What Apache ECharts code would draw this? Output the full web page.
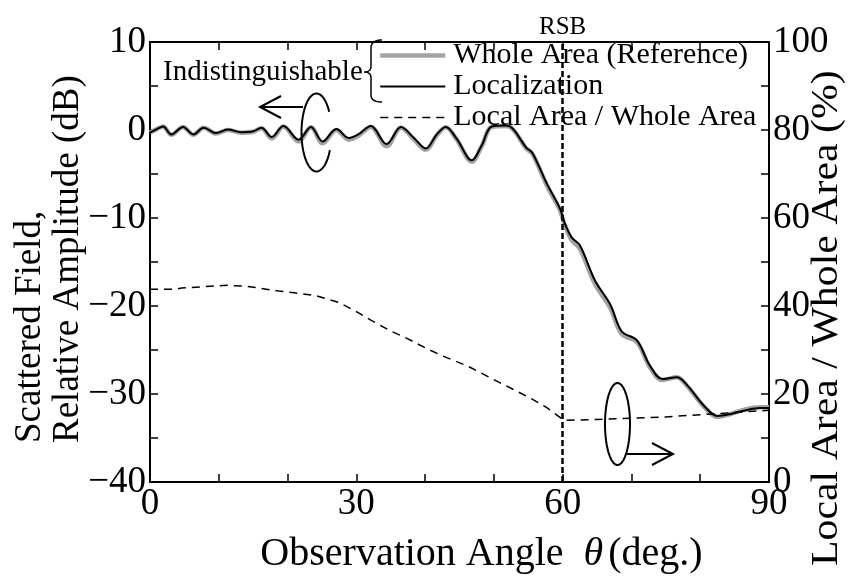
<!DOCTYPE html>
<html>
<head>
<meta charset="utf-8">
<script src="https://cdn.jsdelivr.net/npm/echarts@6/dist/echarts.min.js"></script>
<style>
  html, body { margin: 0; padding: 0; background: #fff; }
  #chart { width: 857px; height: 579px; }
</style>
</head>
<body>
<div id="chart"></div>
<script>
// Observation angle (deg.) for the scattered-field curves
const thetaField = [0, 1.0, 1.9, 3.1, 4.8, 6.3, 7.8, 9.6, 11.3, 13.3, 15.0, 16.2, 17.7, 19.4, 21.6, 23.4, 25.1, 27.1, 28.9, 30.3,
  32.1, 34.4, 36.5, 38.3, 40.1, 41.7, 43.0, 44.6, 46.8, 48.2, 49.7, 51.8, 52.8, 54.7, 55.6, 57.7, 59.6, 60.3, 61.3, 62.5,
  64.7, 66.9, 68.6, 70.8, 72.7, 74.5, 76.6, 78.0, 80.5, 82.5, 84.3, 86.3, 88.7, 90];

// Relative amplitude (dB), whole area (reference)
const wholeAreaDb = [-0.3, 0.1, 0.4, -0.55, 0.35, -0.55, 0.25, -0.4, 0.0, -0.3, -0.2, 0.2, -0.95, 0.4, -1.3, 0.3, -1.5, 0.0, -1.1, -0.65,
  0.35, -1.85, 0.25, -1.0, -2.25, -0.6, 0.3, -1.1, -3.6, -1.9, 0.35, 0.45, 0.05, -2.1, -2.7, -6.3, -9.1, -10.8, -12.5, -13.5,
  -17.5, -20.2, -23.2, -24.1, -27.0, -28.4, -28.1, -29.0, -31.4, -32.6, -32.3, -31.8, -31.5, -31.5];

// Relative amplitude (dB), localization
const localizationDb = [-0.3, 0.1, 0.4, -0.5, 0.35, -0.5, 0.25, -0.35, 0.05, -0.25, -0.15, 0.25, -0.8, 0.45, -1.1, 0.35, -1.3, 0.1, -0.9, -0.5,
  0.45, -1.6, 0.35, -0.85, -2.1, -0.5, 0.35, -1.0, -3.45, -1.8, 0.4, 0.5, 0.1, -2.0, -2.6, -6.1, -8.9, -10.6, -12.2, -13.1,
  -17.1, -19.8, -22.9, -23.9, -26.8, -28.3, -28.1, -28.9, -31.3, -32.5, -32.3, -31.9, -31.6, -31.6];

// Local area / whole area (%)
const thetaRatio = [0, 3.6, 4.6, 8, 11.2, 14, 15.8, 18.7, 21, 24, 27.5, 30, 32.1, 35, 37.3, 40, 42.6, 46.1, 50.7, 55.4,
  57.7, 60.2, 65, 70, 75, 81, 85, 90];
const areaRatio = [43.8, 43.8, 44.1, 44.4, 44.7, 44.5, 44.1, 43.4, 43.0, 42.4, 40.8, 38.7, 36.8, 34.3, 32.7, 30.5, 28.6, 26.4, 22.7, 19.0,
  16.9, 14.0, 14.2, 14.5, 14.8, 15.4, 15.8, 16.3];

const seriesNames = ['Whole Area (Reference)', 'Localization', 'Local Area / Whole Area'];
const rsbAngle = 60;

const FONT = '"Liberation Serif", "Times New Roman", serif';
const pairs = (xs, ys) => xs.map((x, i) => [x, ys[i]]);
const minus = v => (v < 0 ? '\u2212' + Math.abs(v) : String(v));

// ellipse outline as a polyline over a parameter range
function ellipsePts(cx, cy, rx, ry, t0, t1) {
  const pts = [];
  const n = 60;
  for (let i = 0; i <= n; i++) {
    const t = t0 + (t1 - t0) * i / n;
    pts.push([cx + rx * Math.cos(t), cy + ry * Math.sin(t)]);
  }
  return pts;
}

// quadratic curve sampled into points
function quadPts(p0, c, p1) {
  const pts = [];
  const n = 12;
  for (let i = 0; i <= n; i++) {
    const t = i / n, u = 1 - t;
    pts.push([u * u * p0[0] + 2 * u * t * c[0] + t * t * p1[0], u * u * p0[1] + 2 * u * t * c[1] + t * t * p1[1]]);
  }
  return pts;
}

// left curly brace: top hook, middle point, bottom hook
const bracePts = [].concat(
  quadPts([382, 40], [371, 40], [371, 48]),
  [[371, 66]],
  quadPts([371, 66], [371, 72], [364, 72]),
  quadPts([364, 72], [371, 72], [371, 78]),
  [[371, 95]],
  quadPts([371, 95], [371, 102], [382, 102])
);

const chart = echarts.init(document.getElementById('chart'), null, { renderer: 'canvas' });

const axisLineStyle = { color: '#000', width: 2 };
const tickStyle = { color: '#000', width: 1.5 };

const option = {
  backgroundColor: '#fff',
  animation: false,
  grid: { left: 150, right: 88, top: 42, bottom: 93, containLabel: false },
  legend: {
    data: [
      { name: seriesNames[0], lineStyle: { width: 4.5 } },
      { name: seriesNames[1], lineStyle: { width: 2 } },
      { name: seriesNames[2], lineStyle: { width: 1.5 } }
    ],
    orient: 'vertical',
    left: 373,
    top: 35,
    itemWidth: 65,
    itemHeight: 14,
    itemGap: 0,
    selectedMode: false,
    itemStyle: { opacity: 0 },
    textStyle: { fontFamily: FONT, fontSize: 30, color: '#000', lineHeight: 31, padding: [0, 0, 0, 3] }
  },
  xAxis: [
    {
      type: 'value', position: 'bottom', min: 0, max: 90, interval: 10,
      axisLine: { onZero: false, lineStyle: axisLineStyle },
      axisTick: { inside: true, length: 8, lineStyle: tickStyle },
      splitLine: { show: false },
      axisLabel: {
        fontFamily: FONT, fontSize: 37, color: '#000', margin: 4,
        formatter: v => (v % 30 === 0 ? String(v) : '')
      },
      name: 'Observation Angle {i|θ}(deg.)',
      nameLocation: 'middle',
      nameGap: 52,
      nameTextStyle: {
        fontFamily: FONT, fontSize: 40, color: '#000', padding: [0, 0, 0, 44],
        rich: { i: { fontFamily: FONT, fontSize: 40, fontStyle: 'italic', color: '#000', padding: [0, 5, 0, 10] } }
      }
    },
    {
      type: 'value', position: 'top', min: 0, max: 90, interval: 10,
      axisLine: { onZero: false, lineStyle: axisLineStyle },
      axisTick: { inside: true, length: 8, lineStyle: tickStyle },
      splitLine: { show: false },
      axisLabel: { show: false }
    }
  ],
  yAxis: [
    {
      type: 'value', position: 'left', min: -40, max: 10, interval: 5,
      axisLine: { show: true, onZero: false, lineStyle: axisLineStyle },
      axisTick: { show: true, inside: true, length: 8, lineStyle: tickStyle },
      splitLine: { show: false },
      axisLabel: {
        fontFamily: FONT, fontSize: 37, color: '#000', margin: 4,
        formatter: v => (v % 10 === 0 ? minus(v) : '')
      }
    },
    {
      type: 'value', position: 'right', min: 0, max: 100, interval: 10,
      axisLine: { show: true, onZero: false, lineStyle: axisLineStyle },
      axisTick: { show: true, inside: true, length: 8, lineStyle: tickStyle },
      splitLine: { show: false },
      axisLabel: {
        fontFamily: FONT, fontSize: 37, color: '#000', margin: 4,
        formatter: v => (v % 20 === 0 ? String(v) : '')
      }
    }
  ],
  series: [
    {
      name: seriesNames[0], type: 'line', xAxisIndex: 0, yAxisIndex: 0,
      data: pairs(thetaField, wholeAreaDb),
      smooth: 0.35, symbol: 'none', z: 2,
      lineStyle: { color: '#a3a3a3', width: 4.5 },
      itemStyle: { color: '#a3a3a3' }
    },
    {
      name: seriesNames[1], type: 'line', xAxisIndex: 0, yAxisIndex: 0,
      data: pairs(thetaField, localizationDb),
      smooth: 0.35, symbol: 'none', z: 3,
      lineStyle: { color: '#000', width: 2 },
      itemStyle: { color: '#000' }
    },
    {
      name: seriesNames[2], type: 'line', xAxisIndex: 0, yAxisIndex: 1,
      data: pairs(thetaRatio, areaRatio),
      smooth: false, symbol: 'none', z: 3,
      lineStyle: { color: '#000', width: 1.5, type: [8, 6] },
      itemStyle: { color: '#000' },
      markLine: {
        silent: true, symbol: 'none', animation: false,
        lineStyle: { color: '#000', width: 2.5, type: [6, 3] },
        label: { show: true, position: 'end', formatter: 'RSB', fontFamily: FONT, fontSize: 25, color: '#000', distance: 2 },
        data: [{ xAxis: rsbAngle }]
      }
    }
  ],
  graphic: [
    // annotation for the two field curves
    { type: 'text', left: 163, top: 58, z: 10,
      style: { text: 'Indistinguishable', font: '29px ' + FONT, fill: '#000' } },
    { type: 'polyline', z: 10, shape: { points: [[303, 107], [260, 107]] }, style: { stroke: '#000', lineWidth: 2, fill: null } },
    { type: 'polyline', z: 10, shape: { points: [[281, 96], [260, 107], [281, 118]] }, style: { stroke: '#000', lineWidth: 2, fill: null } },
    { type: 'polyline', z: 10, shape: { points: ellipsePts(316.5, 132.5, 15, 39, 0.47, 5.72) }, style: { stroke: '#000', lineWidth: 2, fill: null } },
    // brace grouping the first two legend entries
    { type: 'polyline', z: 10, shape: { points: bracePts }, style: { stroke: '#000', lineWidth: 1.5, fill: null } },
    // annotation for the area ratio curve
    { type: 'polyline', z: 10, shape: { points: ellipsePts(617.5, 424, 12.5, 41, 0, Math.PI * 2) }, style: { stroke: '#000', lineWidth: 2, fill: null } },
    { type: 'polyline', z: 10, shape: { points: [[627, 454], [673, 454]] }, style: { stroke: '#000', lineWidth: 2, fill: null } },
    { type: 'polyline', z: 10, shape: { points: [[652, 443], [673, 454], [652, 465]] }, style: { stroke: '#000', lineWidth: 2, fill: null } },
    // axis titles
    { type: 'text', x: 30, y: 443, rotation: Math.PI / 2, z: 10,
      style: { text: 'Scattered Field,', font: '37px ' + FONT, fill: '#000', textAlign: 'left', textVerticalAlign: 'middle' } },
    { type: 'text', x: 68, y: 443, rotation: Math.PI / 2, z: 10,
      style: { text: 'Relative Amplitude (dB)', font: '37px ' + FONT, fill: '#000', textAlign: 'left', textVerticalAlign: 'middle' } },
    { type: 'text', x: 827, y: 566, rotation: Math.PI / 2, scaleX: 1.13, z: 10,
      style: { text: 'Local Area / Whole Area (%)', font: '37px ' + FONT, fill: '#000', textAlign: 'left', textVerticalAlign: 'middle' } }
  ]
};

chart.setOption(option);
</script>
</body>
</html>
